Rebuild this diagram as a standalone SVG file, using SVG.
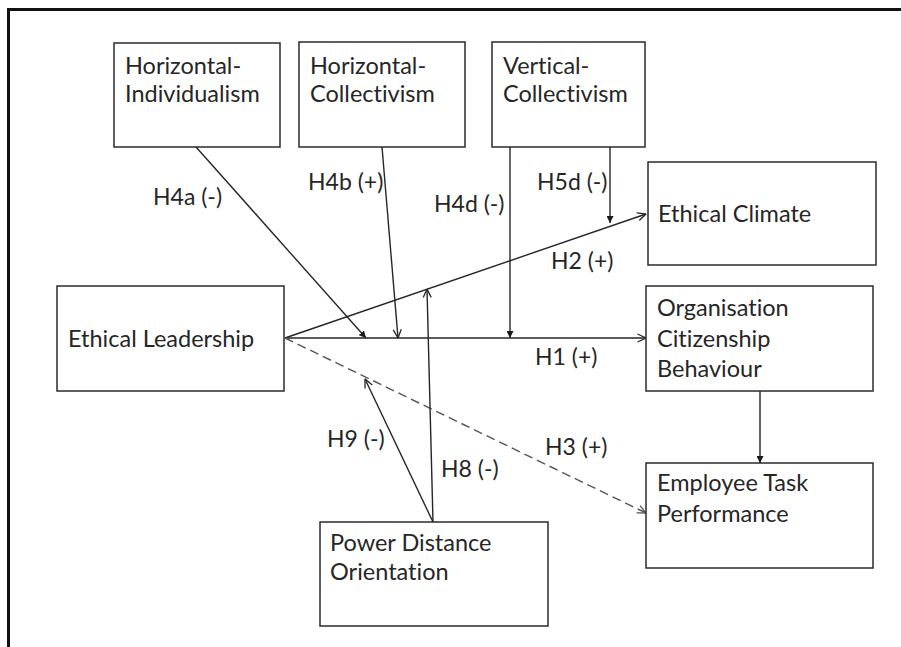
<svg xmlns="http://www.w3.org/2000/svg" width="901" height="647" viewBox="0 0 901 647">
  <defs>
    <style>
      .box { fill: #fff; stroke: #2b2b2b; stroke-width: 1.5; }
      .txt { font-family: Lato, "Open Sans", "Liberation Sans", sans-serif; font-size: 23.5px; fill: #262626; font-variant-ligatures: none; }
      .lbl { font-family: Lato, "Open Sans", "Liberation Sans", sans-serif; font-size: 23px; fill: #262626; font-variant-ligatures: none; }
      .edge { fill: none; stroke: #262626; stroke-width: 1.4; }
      .dash { fill: none; stroke: #555; stroke-width: 1.4; stroke-dasharray: 9 5; }
    </style>
    <marker id="open" viewBox="0 0 10 10" refX="9.5" refY="5" markerWidth="10" markerHeight="10" markerUnits="userSpaceOnUse" orient="auto">
      <path d="M1 1 L9.5 5 L1 9" fill="none" stroke="#262626" stroke-width="1.3"/>
    </marker>
    <marker id="openGrey" viewBox="0 0 10 10" refX="9.5" refY="5" markerWidth="10" markerHeight="10" markerUnits="userSpaceOnUse" orient="auto">
      <path d="M1 1 L9.5 5 L1 9" fill="none" stroke="#555" stroke-width="1.3"/>
    </marker>
    <marker id="solid" viewBox="0 0 10 10" refX="10" refY="5" markerWidth="7" markerHeight="7" markerUnits="userSpaceOnUse" orient="auto">
      <path d="M0 0 L10 5 L0 10 Z" fill="#1a1a1a"/>
    </marker>
  </defs>

  <rect width="901" height="647" fill="#fff"/>
  <!-- frame: only top and left edges fall inside the canvas -->
  <path d="M8.5 647 V9.5 H901" fill="none" stroke="#111" stroke-width="3"/>

  <g id="connectors">
    <line class="edge" x1="196" y1="147" x2="366" y2="338" marker-end="url(#solid)"/>
    <line class="edge" x1="382" y1="147" x2="398" y2="338" marker-end="url(#open)"/>
    <line class="edge" x1="510" y1="147" x2="510" y2="338" marker-end="url(#solid)"/>
    <line class="edge" x1="610" y1="147" x2="610" y2="223" marker-end="url(#solid)"/>
    <line class="edge" x1="285" y1="338" x2="646" y2="214" marker-end="url(#open)"/>
    <line class="edge" x1="285" y1="338" x2="646" y2="338" marker-end="url(#open)"/>
    <line class="dash" x1="285" y1="338" x2="646" y2="513" marker-end="url(#openGrey)"/>
    <line class="edge" x1="433" y1="522" x2="427" y2="289" marker-end="url(#open)"/>
    <line class="edge" x1="433" y1="522" x2="365" y2="379" marker-end="url(#open)"/>
    <line class="edge" x1="760" y1="391" x2="760" y2="463" marker-end="url(#solid)"/>
  </g>

  <g id="labels">
    <text class="lbl" x="153" y="205">H4a (-)</text>
    <text class="lbl" x="308" y="190">H4b (+)</text>
    <text class="lbl" x="434" y="212">H4d (-)</text>
    <text class="lbl" x="537" y="190">H5d (-)</text>
    <text class="lbl" x="551" y="269">H2 (+)</text>
    <text class="lbl" x="535" y="365">H1 (+)</text>
    <text class="lbl" x="545" y="455">H3 (+)</text>
    <text class="lbl" x="441" y="477">H8 (-)</text>
    <text class="lbl" x="327" y="447">H9 (-)</text>
  </g>

  <g id="horizontal-individualism">
    <rect class="box" x="114" y="43" width="166" height="104"/>
    <text class="txt" x="125" y="74">Horizontal-</text>
    <text class="txt" x="125" y="102">Individualism</text>
  </g>
  <g id="horizontal-collectivism">
    <rect class="box" x="299" y="42" width="166" height="105"/>
    <text class="txt" x="310" y="74">Horizontal-</text>
    <text class="txt" x="310" y="102">Collectivism</text>
  </g>
  <g id="vertical-collectivism">
    <rect class="box" x="492" y="42" width="153" height="105"/>
    <text class="txt" x="503" y="74">Vertical-</text>
    <text class="txt" x="503" y="102">Collectivism</text>
  </g>
  <g id="ethical-climate">
    <rect class="box" x="648" y="162" width="228" height="103"/>
    <text class="txt" x="658" y="222">Ethical Climate</text>
  </g>
  <g id="ethical-leadership">
    <rect class="box" x="57" y="286" width="227" height="105"/>
    <text class="txt" x="68" y="347">Ethical Leadership</text>
  </g>
  <g id="ocb">
    <rect class="box" x="646" y="286" width="227" height="105"/>
    <text class="txt" x="657" y="316">Organisation</text>
    <text class="txt" x="657" y="347">Citizenship</text>
    <text class="txt" x="657" y="377">Behaviour</text>
  </g>
  <g id="employee-task-performance">
    <rect class="box" x="646" y="463" width="227" height="105"/>
    <text class="txt" x="657" y="491">Employee Task</text>
    <text class="txt" x="657" y="522">Performance</text>
  </g>
  <g id="power-distance-orientation">
    <rect class="box" x="320" y="522" width="228" height="104"/>
    <text class="txt" x="330" y="551">Power Distance</text>
    <text class="txt" x="330" y="580">Orientation</text>
  </g>
</svg>
